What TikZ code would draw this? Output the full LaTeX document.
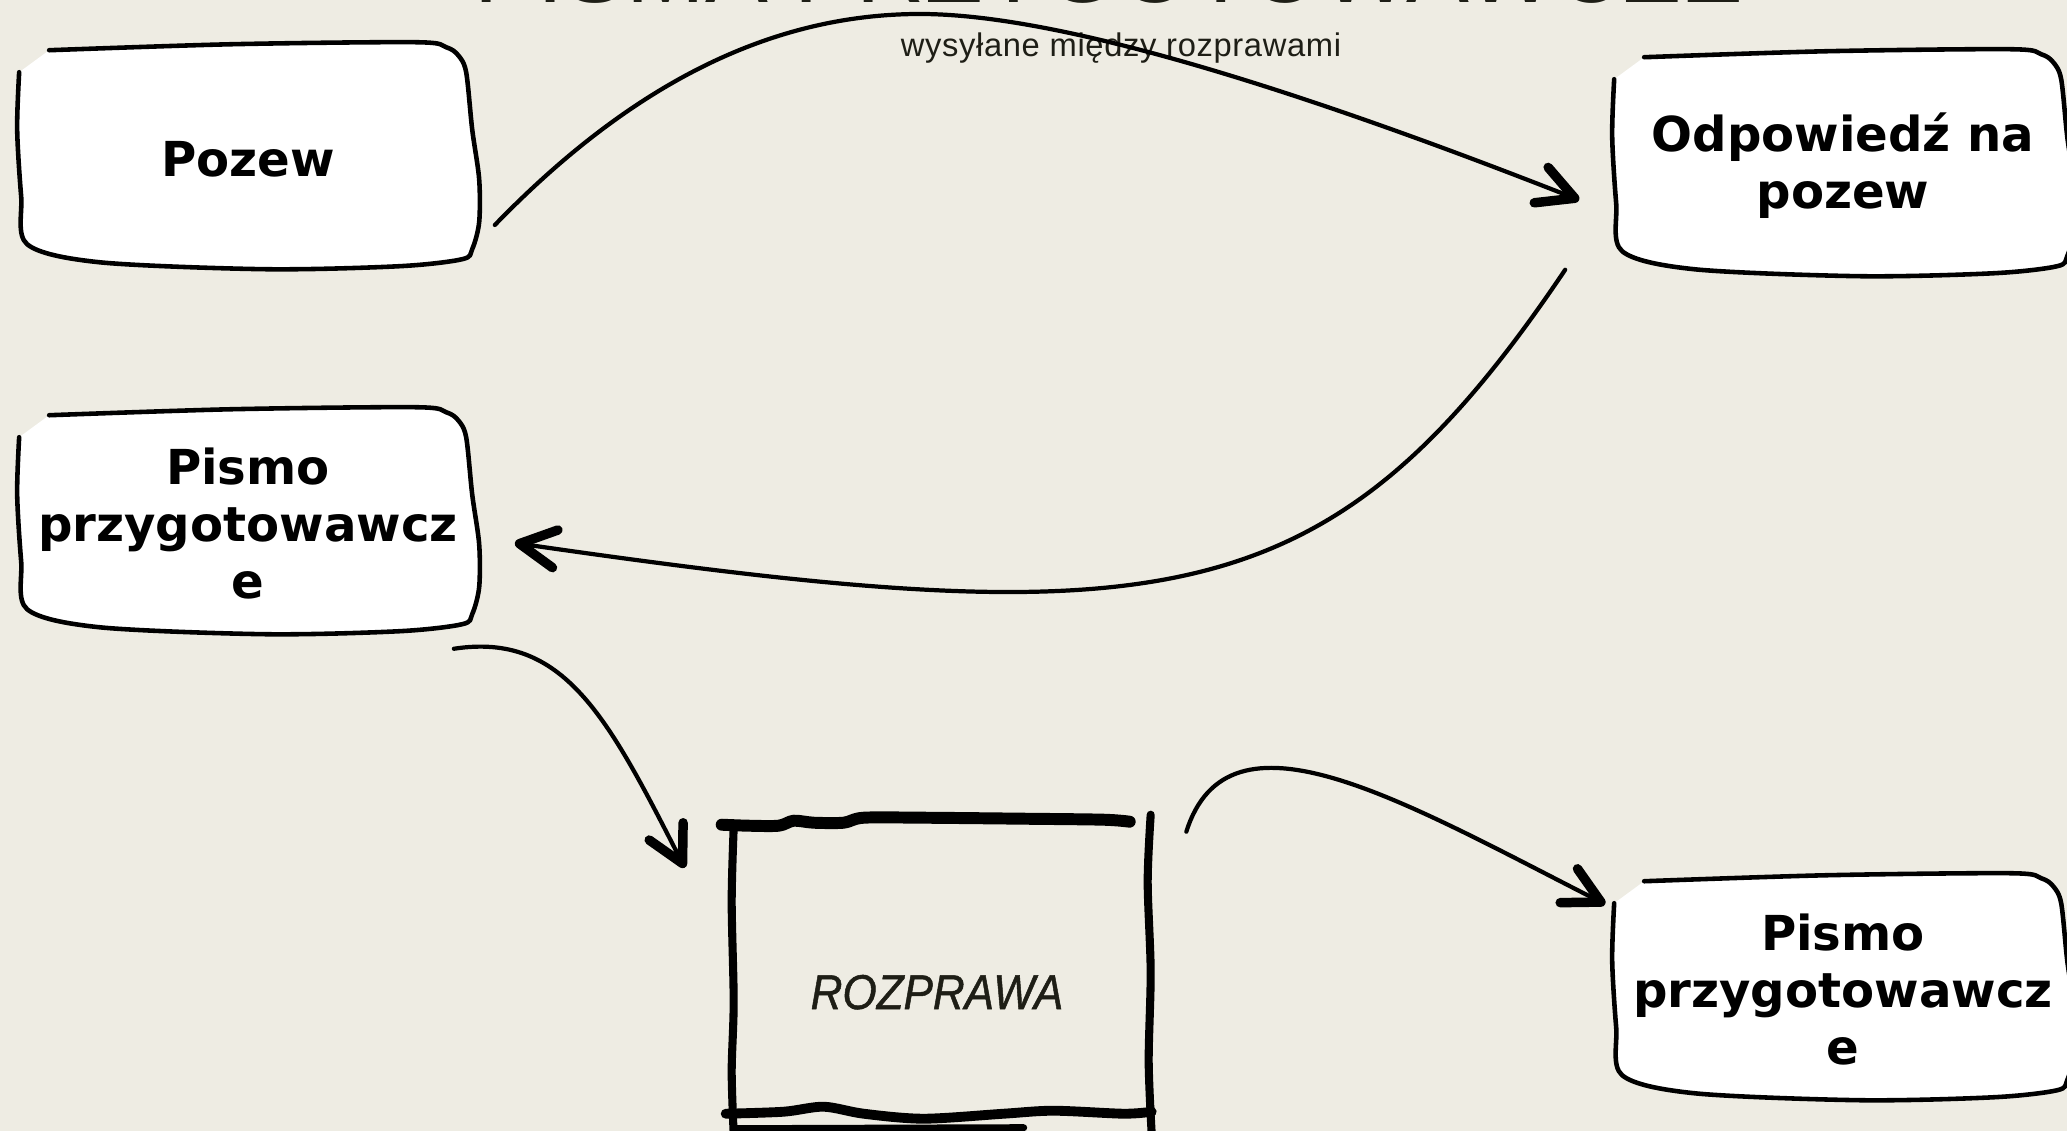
\documentclass[tikz,border=0pt]{standalone}
\usepackage{fontspec}
\setmainfont{DejaVu Sans}
\newfontfamily\titrefont{Liberation Sans}
\newfontfamily\soustitrefont[LetterSpace=2]{Liberation Sans}
\newfontfamily\rozfont[FakeStretch=0.9,FakeBold=1]{Liberation Sans}
\usetikzlibrary{arrows.meta,backgrounds}
\definecolor{fond}{RGB}{238,236,227}
\definecolor{encre}{RGB}{30,30,22}

% contour dessine a la main d'une carte blanche
\newcommand{\boite}[1]{%
  \begin{scope}[shift={(#1.north west)}]
    \fill[white] plot[smooth,tension=.5] coordinates {(32,3) (215,-3) (399,-5) (429,0) (441,8) (449,25) (455,82) (462,132) (462,175) (455,202) (445,212) (382,219) (249,222) (82,215) (10,197) (4,149) (0,82) (2,25)} -- cycle;
    \draw[trait] plot[smooth,tension=.5] coordinates {(32,3) (215,-3) (399,-5) (429,0) (441,8) (449,25) (455,82) (462,132) (462,175) (455,202) (445,212) (382,219) (249,222) (82,215) (10,197) (4,149) (0,82) (2,25)};
  \end{scope}}

% cadre au pinceau
\newcommand{\cadre}[1]{%
  \begin{scope}[shift={(#1.north west)}]
    \draw[pinceau, line width=3.4pt] plot[smooth,tension=.5] coordinates {(-2,3) (25,4) (55,4) (70,-1) (90,1) (120,1) (140,-4) (200,-4) (300,-3) (380,-2) (406,0)};
    \draw[pinceau, line width=2.3pt] plot[smooth,tension=.5] coordinates {(10,6) (8,80) (10,180) (8,250) (10,312)};
    \draw[pinceau, line width=2.3pt] plot[smooth,tension=.5] coordinates {(427,-7) (424,60) (427,150) (425,240) (428,312)};
    \draw[pinceau, line width=2.8pt] plot[smooth,tension=.5] coordinates {(2,292) (60,290) (100,285) (140,292) (200,297) (280,292) (330,289) (400,292) (428,290)};
    \draw[pinceau, line width=2pt] (10,307) -- (300,306);
  \end{scope}}

\begin{document}
\begin{tikzpicture}[x=0.01cm, y=-0.01cm,
    trait/.style={line width=1.3pt, line cap=round, line join=round},
    pinceau/.style={line cap=round, line join=round},
    fleche/.style={line width=1.2pt, line cap=round,
      -{Straight Barb[length=3.6mm, width=3.8mm, line width=2.7pt, round]}},
    carte/.style={minimum width=4.6cm, minimum height=2.22cm, inner sep=0pt,
      align=center, font=\fontsize{13.7}{16.2}\selectfont\bfseries}]
  \useasboundingbox (0,0) rectangle (2067,1131);
  \clip (0,0) rectangle (2067,1131);

  % titres
  \node[font=\titrefont\fontsize{26.8}{30}\selectfont, text=encre, anchor=base west, inner sep=0pt] (titre) at (474,3) {PISMA PRZYGOTOWAWCZE};
  \node[font=\soustitrefont\fontsize{9.3}{11}\selectfont, text=encre, anchor=base, inner sep=0pt] (soustitre) at (1121,57) {wysyłane między rozprawami};

  % les pisma
  \node[carte] (pozew) at (248,159) {Pozew};
  \node[carte] (odpowiedz) at (1843,166) {Odpowiedź na\\pozew};
  \node[carte] (pismoA) at (248,524) {Pismo\\przygotowawcz\\e};
  \node[carte] (pismoB) at (1843,990) {Pismo\\przygotowawcz\\e};
  \node[minimum width=4.25cm, inner sep=0pt, text height=1.865cm, text depth=1.105cm,
    font=\rozfont\itshape\fontsize{13.9}{16}\selectfont, text=encre] (rozprawa) at (937,971) {ROZPRAWA};

  \begin{pgfonlayer}{background}
    \fill[fond] (0,0) rectangle (2067,1131);
    \foreach \b in {pozew, odpowiedz, pismoA, pismoB}{
      \boite{\b}
    }
    \cadre{rozprawa}
  \end{pgfonlayer}

  % fleches
  \draw[fleche] ([shift={(16,66)}]pozew.east) .. controls +(126,-130) and +(-160,0) .. (920,14)
    .. controls +(140,0) and +(-280,-110) .. ([shift={(-33,34)}]odpowiedz.west);
  \draw[fleche] ([shift={(-47,-8)}]odpowiedz.south west) .. controls +(-235,349) and +(650,94) .. ([shift={(36,19)}]pismoA.east);
  \draw[fleche] ([shift={(-25,13)}]pismoA.south east) .. controls +(110,-17) and +(-77,-151) .. ([shift={(-39,46)}]rozprawa.north west);
  \draw[fleche] ([shift={(36,10)}]rozprawa.north east) .. controls +(42,-133) and +(-206,-105) .. ([shift={(-7,26)}]pismoB.north west);
\end{tikzpicture}
\end{document}
